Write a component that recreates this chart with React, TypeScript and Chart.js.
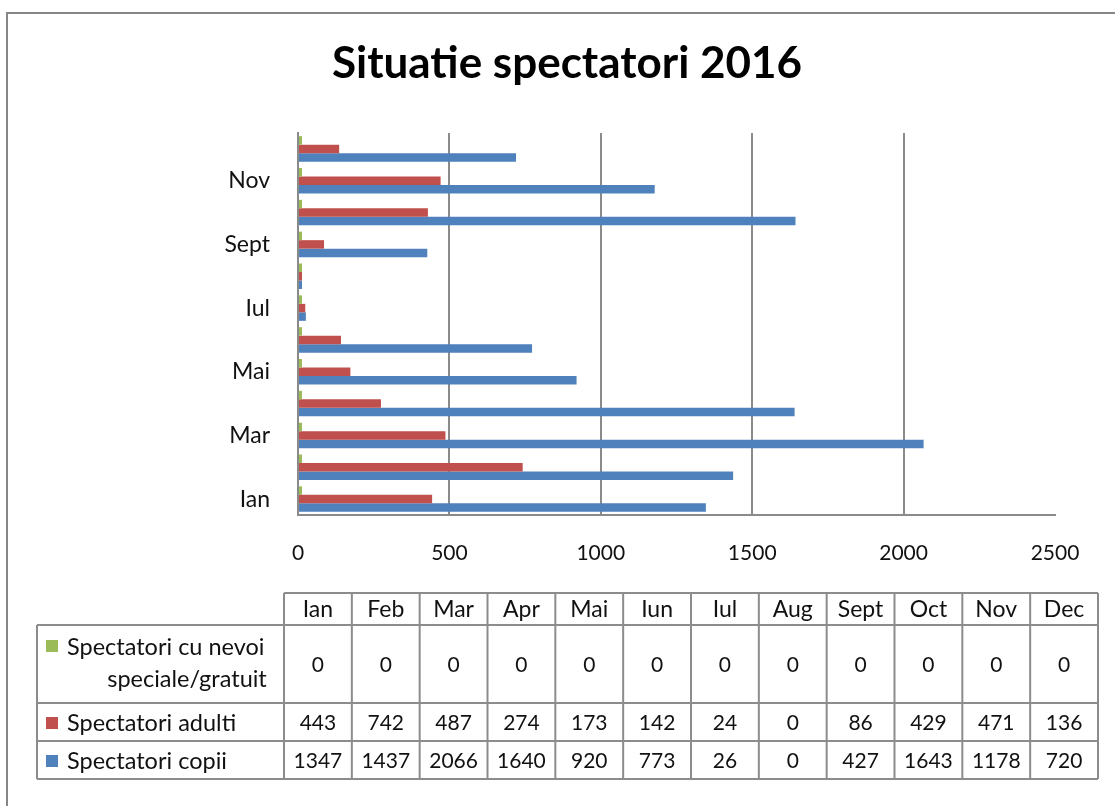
import React, { useEffect, useRef } from "react";
import { Chart, registerables } from "chart.js";

Chart.register(...registerables);

const chartTitle = "Situatie spectatori 2016";
const months = ["Ian", "Feb", "Mar", "Apr", "Mai", "Iun", "Iul", "Aug", "Sept", "Oct", "Nov", "Dec"];
const seriesNames = ["Spectatori cu nevoi speciale/gratuit", "Spectatori adulti", "Spectatori copii"];
const gratuit = [0, 0, 0, 0, 0, 0, 0, 0, 0, 0, 0, 0];
const adulti = [443, 742, 487, 274, 173, 142, 24, 0, 86, 429, 471, 136];
const copii = [1347, 1437, 2066, 1640, 920, 773, 26, 0, 427, 1643, 1178, 720];
const xTickValues = [0, 500, 1000, 1500, 2000, 2500];

const colors = ["#9BBB59", "#C0504D", "#4F81BD"];
const FONT = "Lato, 'Open Sans', sans-serif";
const GRID = "#8a8a8a";
const TEXT = "#111";

const W = 1115;
const H = 806;

const decorPlugin = {
  id: "decor",
  beforeDraw(chart: any) {
    const ctx = chart.ctx;
    ctx.save();
    ctx.fillStyle = "#ffffff";
    ctx.fillRect(0, 0, W, H);
    ctx.restore();
  },
  afterDraw(chart: any) {
    const ctx = chart.ctx;
    ctx.save();
    // outer frame
    ctx.strokeStyle = "#868686";
    ctx.lineWidth = 2;
    ctx.beginPath();
    ctx.moveTo(7, H);
    ctx.lineTo(7, 13);
    ctx.lineTo(W, 13);
    ctx.stroke();

    // title
    ctx.fillStyle = "#000";
    ctx.font = `bold 44px ${FONT}`;
    ctx.textAlign = "center";
    ctx.textBaseline = "middle";
    ctx.fillText(chartTitle, 567, 64);

    // data table
    const values = [gratuit, adulti, copii];
    const x0 = 284;
    const x1 = 1098;
    const labelLeft = 37;
    const colW = (x1 - x0) / months.length;
    const rowY = [593, 625, 703, 741, 779];
    ctx.strokeStyle = "#8c8c8c";
    ctx.lineWidth = 2;
    ctx.beginPath();
    ctx.moveTo(x0, rowY[0]);
    ctx.lineTo(x1, rowY[0]);
    for (let r = 1; r < rowY.length; r++) {
      ctx.moveTo(labelLeft, rowY[r]);
      ctx.lineTo(x1, rowY[r]);
    }
    ctx.moveTo(labelLeft, rowY[1]);
    ctx.lineTo(labelLeft, rowY[4]);
    for (let c = 0; c <= months.length; c++) {
      const x = x0 + c * colW;
      ctx.moveTo(x, rowY[0]);
      ctx.lineTo(x, rowY[4]);
    }
    ctx.stroke();

    ctx.fillStyle = TEXT;
    ctx.textAlign = "center";
    ctx.textBaseline = "middle";
    ctx.font = `23px ${FONT}`;
    months.forEach((m, i) => {
      ctx.fillText(m, x0 + colW * (i + 0.5), (rowY[0] + rowY[1]) / 2 + 1);
    });
    ctx.font = `21px ${FONT}`;
    values.forEach((arr, r) => {
      const yc = (rowY[r + 1] + rowY[r + 2]) / 2 + 1;
      arr.forEach((v, i) => {
        ctx.fillText(String(v), x0 + colW * (i + 0.5), yc);
      });
      ctx.fillStyle = colors[r];
      const ky = r === 0 ? 646 : yc;
      ctx.fillRect(46, ky - 6, 12, 12);
      ctx.fillStyle = TEXT;
    });
    ctx.font = `23.5px ${FONT}`;
    ctx.textAlign = "left";
    const firstWords = seriesNames[0].split(" ");
    ctx.fillText(firstWords.slice(0, 3).join(" "), 67, 647);
    ctx.textAlign = "center";
    ctx.fillText(firstWords.slice(3).join(" "), 187, 679);
    ctx.textAlign = "left";
    ctx.fillText(seriesNames[1], 67, (rowY[2] + rowY[3]) / 2 + 1);
    ctx.fillText(seriesNames[2], 67, (rowY[3] + rowY[4]) / 2 + 1);

    ctx.restore();
  },
};

export default function App() {
  const canvasRef = useRef<HTMLCanvasElement | null>(null);

  useEffect(() => {
    const canvas = canvasRef.current;
    if (!canvas) return;
    const series = [gratuit, adulti, copii];
    const chart = new Chart(canvas, {
      type: "bar",
      data: {
        labels: months,
        datasets: series.map((d, i) => ({
          label: seriesNames[i],
          data: d,
          backgroundColor: colors[i],
          borderWidth: 0,
          minBarLength: 4,
          categoryPercentage: 0.8,
          barPercentage: 1,
        })),
      },
      plugins: [decorPlugin],
      options: {
        indexAxis: "y",
        responsive: false,
        animation: false,
        devicePixelRatio: 1,
        layout: { padding: { top: 133, bottom: 231, left: 0, right: 60 } },
        plugins: {
          legend: { display: false },
          title: { display: false },
          tooltip: { enabled: false },
        },
        scales: {
          x: {
            type: "linear",
            min: 0,
            max: 2500,
            afterBuildTicks: (s: any) => {
              s.ticks = xTickValues.map((v) => ({ value: v }));
            },
            ticks: {
              font: { size: 21, family: FONT },
              color: TEXT,
              padding: 26,
              callback: (v: any) => String(v),
            },
            grid: {
              color: (c: any) => (c.tick && (c.tick.value === 0 || c.tick.value === 2500) ? "rgba(0,0,0,0)" : GRID),
              lineWidth: 2,
              drawTicks: false,
            },
            border: { display: true, color: GRID, width: 2 },
            afterFit: (s: any) => {
              s.height = 60;
            },
          },
          y: {
            type: "category",
            reverse: true,
            ticks: {
              autoSkip: false,
              font: { size: 23, family: FONT },
              color: TEXT,
              padding: 28,
              callback: (_v: any, i: number) => (i % 2 === 0 ? months[i] : ""),
            },
            grid: { display: false, drawTicks: false },
            border: { display: true, color: GRID, width: 2 },
            afterFit: (s: any) => {
              s.width = 298;
            },
          },
        },
      },
    });
    return () => chart.destroy();
  }, []);

  return (
    <div style={{ position: "absolute", left: 0, top: 0, width: W, height: H, background: "#fff" }}>
      <canvas ref={canvasRef} width={W} height={H} style={{ display: "block", width: W, height: H }} />
    </div>
  );
}
